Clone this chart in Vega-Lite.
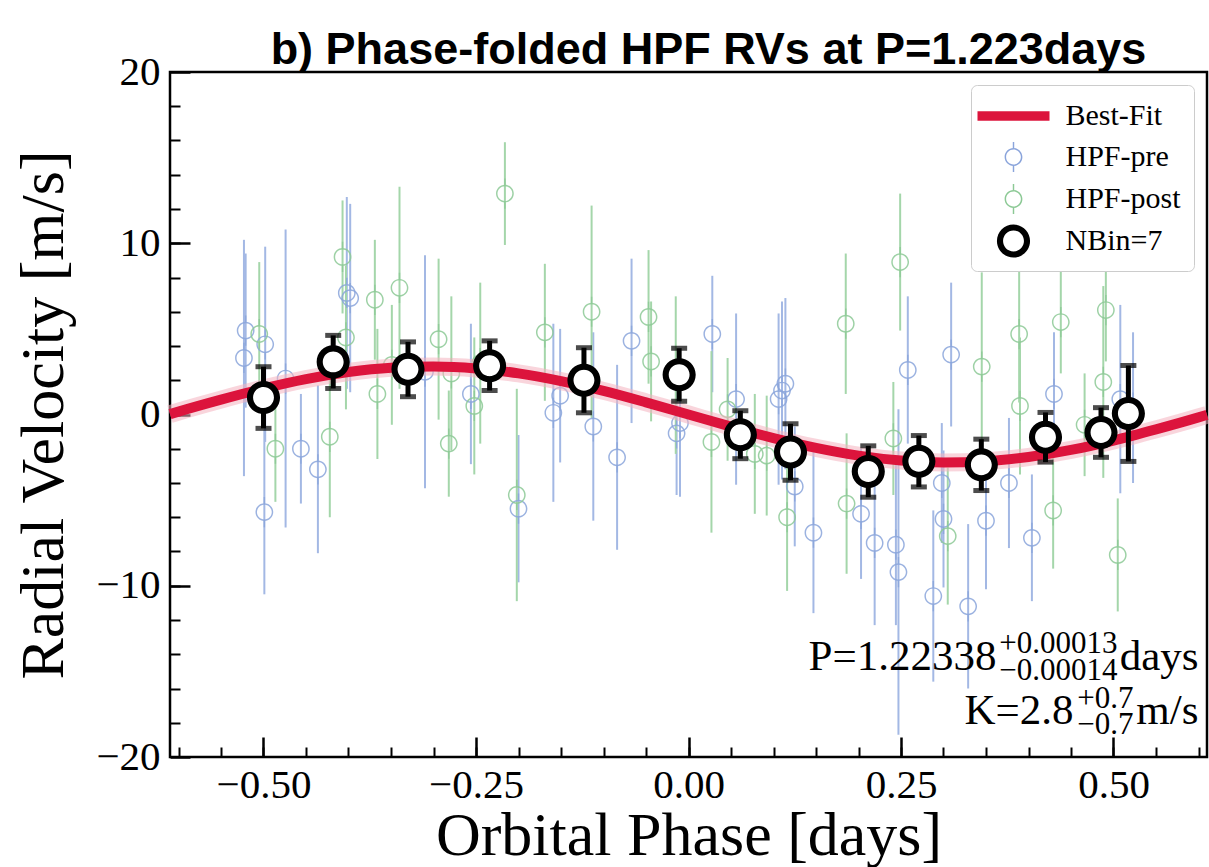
{
  "$schema": "https://vega.github.io/schema/vega-lite/v6.json",
  "width": 1037,
  "height": 685,
  "autosize": {"type": "none"},
  "padding": {"left": 170, "top": 72, "right": 2, "bottom": 110},
  "background": "white",
  "title": {
    "text": "b) Phase-folded HPF RVs at P=1.223days",
    "font": "Liberation Sans",
    "fontSize": 45,
    "fontWeight": "bold",
    "color": "black",
    "anchor": "middle",
    "dx": 20,
    "offset": -58,
    "baseline": "alphabetic"
  },
  "config": {
    "view": {"stroke": "black", "strokeWidth": 2.5},
    "axis": {"grid": false}
  },
  "resolve": {"axis": {"x": "independent", "y": "independent"}},
  "datasets": {
    "rv": [
      {"phase": -0.523, "rv": 3.3, "err": 6.9, "series": "HPF-pre"},
      {"phase": -0.521, "rv": 4.9, "err": 4.5, "series": "HPF-pre"},
      {"phase": -0.498, "rv": 4.1, "err": 5.7, "series": "HPF-pre"},
      {"phase": -0.499, "rv": -5.7, "err": 4.8, "series": "HPF-pre"},
      {"phase": -0.474, "rv": 2.1, "err": 8.7, "series": "HPF-pre"},
      {"phase": -0.456, "rv": -2.0, "err": 3.2, "series": "HPF-pre"},
      {"phase": -0.436, "rv": -3.2, "err": 4.9, "series": "HPF-pre"},
      {"phase": -0.402, "rv": 7.1, "err": 5.6, "series": "HPF-pre"},
      {"phase": -0.398, "rv": 6.8, "err": 5.5, "series": "HPF-pre"},
      {"phase": -0.310, "rv": 2.5, "err": 6.8, "series": "HPF-pre"},
      {"phase": -0.256, "rv": 1.2, "err": 4.1, "series": "HPF-pre"},
      {"phase": -0.200, "rv": -5.5, "err": 4.3, "series": "HPF-pre"},
      {"phase": -0.159, "rv": 0.1, "err": 5.2, "series": "HPF-pre"},
      {"phase": -0.151, "rv": 1.1, "err": 3.9, "series": "HPF-pre"},
      {"phase": -0.112, "rv": -0.7, "err": 5.5, "series": "HPF-pre"},
      {"phase": -0.084, "rv": -2.5, "err": 5.4, "series": "HPF-pre"},
      {"phase": -0.067, "rv": 4.3, "err": 4.8, "series": "HPF-pre"},
      {"phase": -0.010, "rv": -0.5, "err": 4.3, "series": "HPF-pre"},
      {"phase": -0.014, "rv": -1.1, "err": 3.6, "series": "HPF-pre"},
      {"phase": 0.028, "rv": 4.7, "err": 3.4, "series": "HPF-pre"},
      {"phase": 0.056, "rv": 0.9, "err": 5.0, "series": "HPF-pre"},
      {"phase": 0.106, "rv": 0.9, "err": 5.0, "series": "HPF-pre"},
      {"phase": 0.110, "rv": 1.4, "err": 5.2, "series": "HPF-pre"},
      {"phase": 0.114, "rv": 1.8, "err": 5.0, "series": "HPF-pre"},
      {"phase": 0.125, "rv": -4.2, "err": 3.5, "series": "HPF-pre"},
      {"phase": 0.147, "rv": -6.9, "err": 4.7, "series": "HPF-pre"},
      {"phase": 0.203, "rv": -5.8, "err": 3.8, "series": "HPF-pre"},
      {"phase": 0.219, "rv": -7.5, "err": 4.8, "series": "HPF-pre"},
      {"phase": 0.244, "rv": -7.6, "err": 4.7, "series": "HPF-pre"},
      {"phase": 0.247, "rv": -9.2, "err": 9.5, "series": "HPF-pre"},
      {"phase": 0.258, "rv": 2.6, "err": 4.3, "series": "HPF-pre"},
      {"phase": 0.288, "rv": -10.6, "err": 5.0, "series": "HPF-pre"},
      {"phase": 0.298, "rv": -4.0, "err": 3.5, "series": "HPF-pre"},
      {"phase": 0.300, "rv": -6.1, "err": 4.0, "series": "HPF-pre"},
      {"phase": 0.309, "rv": 3.5, "err": 4.2, "series": "HPF-pre"},
      {"phase": 0.329, "rv": -11.2, "err": 4.8, "series": "HPF-pre"},
      {"phase": 0.350, "rv": -6.2, "err": 4.0, "series": "HPF-pre"},
      {"phase": 0.377, "rv": -4.0, "err": 3.8, "series": "HPF-pre"},
      {"phase": 0.404, "rv": -7.2, "err": 3.7, "series": "HPF-pre"},
      {"phase": 0.430, "rv": 1.2, "err": 3.6, "series": "HPF-pre"},
      {"phase": 0.508, "rv": 0.9, "err": 5.5, "series": "HPF-pre"},
      {"phase": 0.523, "rv": 0.4, "err": 4.4, "series": "HPF-pre"},
      {"phase": -0.505, "rv": 4.7, "err": 4.2, "series": "HPF-post"},
      {"phase": -0.486, "rv": -2.0, "err": 3.1, "series": "HPF-post"},
      {"phase": -0.422, "rv": -1.3, "err": 4.7, "series": "HPF-post"},
      {"phase": -0.407, "rv": 9.2, "err": 3.3, "series": "HPF-post"},
      {"phase": -0.403, "rv": 4.5, "err": 4.2, "series": "HPF-post"},
      {"phase": -0.369, "rv": 6.7, "err": 3.5, "series": "HPF-post"},
      {"phase": -0.366, "rv": 1.2, "err": 3.8, "series": "HPF-post"},
      {"phase": -0.349, "rv": 2.9, "err": 3.5, "series": "HPF-post"},
      {"phase": -0.340, "rv": 7.4, "err": 5.9, "series": "HPF-post"},
      {"phase": -0.294, "rv": 4.4, "err": 4.7, "series": "HPF-post"},
      {"phase": -0.282, "rv": -1.7, "err": 3.1, "series": "HPF-post"},
      {"phase": -0.279, "rv": 2.4, "err": 4.5, "series": "HPF-post"},
      {"phase": -0.252, "rv": 0.5, "err": 4.0, "series": "HPF-post"},
      {"phase": -0.245, "rv": 3.0, "err": 4.7, "series": "HPF-post"},
      {"phase": -0.216, "rv": 12.9, "err": 3.0, "series": "HPF-post"},
      {"phase": -0.202, "rv": -4.7, "err": 6.2, "series": "HPF-post"},
      {"phase": -0.169, "rv": 4.8, "err": 4.0, "series": "HPF-post"},
      {"phase": -0.114, "rv": 6.0, "err": 6.2, "series": "HPF-post"},
      {"phase": -0.047, "rv": 5.7, "err": 3.9, "series": "HPF-post"},
      {"phase": -0.044, "rv": 3.1, "err": 3.5, "series": "HPF-post"},
      {"phase": -0.015, "rv": 2.3, "err": 4.6, "series": "HPF-post"},
      {"phase": 0.027, "rv": -1.6, "err": 5.3, "series": "HPF-post"},
      {"phase": 0.046, "rv": 0.3, "err": 3.0, "series": "HPF-post"},
      {"phase": 0.078, "rv": -2.3, "err": 3.5, "series": "HPF-post"},
      {"phase": 0.092, "rv": -2.4, "err": 3.5, "series": "HPF-post"},
      {"phase": 0.116, "rv": -6.0, "err": 4.3, "series": "HPF-post"},
      {"phase": 0.185, "rv": 5.3, "err": 4.1, "series": "HPF-post"},
      {"phase": 0.186, "rv": -5.2, "err": 4.1, "series": "HPF-post"},
      {"phase": 0.241, "rv": -1.4, "err": 3.3, "series": "HPF-post"},
      {"phase": 0.249, "rv": 8.9, "err": 4.0, "series": "HPF-post"},
      {"phase": 0.305, "rv": -7.1, "err": 4.0, "series": "HPF-post"},
      {"phase": 0.345, "rv": 2.8, "err": 5.5, "series": "HPF-post"},
      {"phase": 0.389, "rv": 4.7, "err": 4.0, "series": "HPF-post"},
      {"phase": 0.390, "rv": 0.5, "err": 4.0, "series": "HPF-post"},
      {"phase": 0.429, "rv": -5.6, "err": 3.4, "series": "HPF-post"},
      {"phase": 0.438, "rv": 5.4, "err": 3.0, "series": "HPF-post"},
      {"phase": 0.466, "rv": -0.6, "err": 3.0, "series": "HPF-post"},
      {"phase": 0.488, "rv": 1.9, "err": 5.6, "series": "HPF-post"},
      {"phase": 0.491, "rv": 6.1, "err": 3.0, "series": "HPF-post"},
      {"phase": 0.505, "rv": -8.2, "err": 3.3, "series": "HPF-post"}
    ],
    "bins": [
      {"phase": -0.500, "rv": 0.99, "err": 1.8},
      {"phase": -0.418, "rv": 3.07, "err": 1.55},
      {"phase": -0.330, "rv": 2.64, "err": 1.6},
      {"phase": -0.234, "rv": 2.85, "err": 1.45},
      {"phase": -0.123, "rv": 2.0, "err": 1.9},
      {"phase": -0.011, "rv": 2.32, "err": 1.55},
      {"phase": 0.061, "rv": -1.18, "err": 1.4},
      {"phase": 0.120, "rv": -2.19, "err": 1.65},
      {"phase": 0.2115, "rv": -3.33, "err": 1.5},
      {"phase": 0.271, "rv": -2.73, "err": 1.5},
      {"phase": 0.3445, "rv": -2.94, "err": 1.5},
      {"phase": 0.420, "rv": -1.33, "err": 1.45},
      {"phase": 0.4853, "rv": -1.05, "err": 1.45},
      {"phase": 0.5175, "rv": 0.06, "err": 2.8}
    ],
    "curve": [
      {"phase": -0.61, "rv": 0.02},
      {"phase": -0.60, "rv": 0.17},
      {"phase": -0.55, "rv": 0.87},
      {"phase": -0.50, "rv": 1.52},
      {"phase": -0.45, "rv": 2.07},
      {"phase": -0.40, "rv": 2.48},
      {"phase": -0.35, "rv": 2.73},
      {"phase": -0.30, "rv": 2.80},
      {"phase": -0.25, "rv": 2.69},
      {"phase": -0.20, "rv": 2.40},
      {"phase": -0.15, "rv": 1.95},
      {"phase": -0.10, "rv": 1.38},
      {"phase": -0.05, "rv": 0.71},
      {"phase": 0.00, "rv": 0.00},
      {"phase": 0.05, "rv": -0.71},
      {"phase": 0.10, "rv": -1.38},
      {"phase": 0.15, "rv": -1.95},
      {"phase": 0.20, "rv": -2.40},
      {"phase": 0.25, "rv": -2.69},
      {"phase": 0.30, "rv": -2.80},
      {"phase": 0.35, "rv": -2.73},
      {"phase": 0.40, "rv": -2.48},
      {"phase": 0.45, "rv": -2.07},
      {"phase": 0.50, "rv": -1.52},
      {"phase": 0.55, "rv": -0.87},
      {"phase": 0.60, "rv": -0.17},
      {"phase": 0.61, "rv": -0.02}
    ]
  },
  "layer": [
    {
      "mark": {"type": "rule", "color": "#444444", "strokeWidth": 1.5, "strokeDash": [6, 4]},
      "encoding": {
        "y": {"datum": 0, "type": "quantitative", "scale": {"domain": [-20, 20], "nice": false, "zero": false}, "axis": null}
      }
    },
    {
      "data": {"name": "rv"},
      "transform": [{"filter": "datum.series === 'HPF-pre'"}],
      "mark": {"type": "errorbar", "color": "#a3b8e4", "thickness": 2},
      "encoding": {
        "x": {"field": "phase", "type": "quantitative", "scale": {"domain": [-0.61, 0.61], "nice": false, "zero": false}, "axis": null},
        "y": {"field": "rv", "type": "quantitative", "scale": {"domain": [-20, 20], "nice": false, "zero": false}, "axis": null},
        "yError": {"field": "err"}
      }
    },
    {
      "data": {"name": "rv"},
      "transform": [{"filter": "datum.series === 'HPF-post'"}],
      "mark": {"type": "errorbar", "color": "#a4d6aa", "thickness": 2},
      "encoding": {
        "x": {"field": "phase", "type": "quantitative", "scale": {"domain": [-0.61, 0.61], "nice": false, "zero": false}, "axis": null},
        "y": {"field": "rv", "type": "quantitative", "scale": {"domain": [-20, 20], "nice": false, "zero": false}, "axis": null},
        "yError": {"field": "err"}
      }
    },
    {
      "data": {"name": "rv"},
      "mark": {"type": "point", "filled": true, "size": 1296, "strokeWidth": 0, "opacity": 0.85},
      "encoding": {
        "x": {
          "field": "phase", "type": "quantitative",
          "scale": {"domain": [-0.61, 0.61], "nice": false, "zero": false},
          "axis": {
            "orient": "bottom", "values": [-0.5, -0.25, 0, 0.25, 0.5], "format": ".2f",
            "title": "Orbital Phase [days]", "domain": false, "grid": false,
            "tickSize": -20, "tickWidth": 2.5, "tickColor": "black",
            "labelFont": "Liberation Serif", "labelFontSize": 41, "labelColor": "black", "labelPadding": 28,
            "labelFlush": false, "labelOverlap": false,
            "titleFont": "Liberation Serif", "titleFontSize": 62, "titleFontWeight": "normal", "titleColor": "black", "titlePadding": 0
          }
        },
        "y": {
          "field": "rv", "type": "quantitative",
          "scale": {"domain": [-20, 20], "nice": false, "zero": false},
          "axis": {
            "orient": "left", "values": [-20, -10, 0, 10, 20], "format": "d",
            "title": "Radial Velocity [m/s]", "domain": false, "grid": false,
            "tickSize": -20, "tickWidth": 2.5, "tickColor": "black",
            "labelFont": "Liberation Serif", "labelFontSize": 41, "labelColor": "black", "labelPadding": 30,
            "labelFlush": false, "labelOverlap": false,
            "titleFont": "Liberation Serif", "titleFontSize": 62, "titleFontWeight": "normal", "titleColor": "black", "titlePadding": 20
          }
        },
        "color": {
          "field": "series", "type": "nominal",
          "scale": {"domain": ["Best-Fit", "HPF-pre", "HPF-post", "NBin=7"], "range": ["#dc143c", "#8aa4db", "#8cc995", "black"]},
          "legend": {
            "title": null, "orient": "top-right", "offset": 13, "padding": 13,
            "fillColor": "white", "strokeColor": "#cccccc", "cornerRadius": 6,
            "labelFont": "Liberation Serif", "labelFontSize": 30, "labelColor": "black",
            "symbolSize": 1296, "symbolStrokeWidth": 0, "symbolOffset": 11.5, "labelOffset": 34, "rowPadding": 8,
            "symbolOpacity": 1
          }
        },
        "shape": {
          "field": "series", "type": "nominal",
          "scale": {
            "domain": ["Best-Fit", "HPF-pre", "HPF-post", "NBin=7"],
            "range": [
              "M-2,-0.26H2V0.26H-2Z",
              "M-0.494,0A0.494,0.494,0,1,1,0.494,0A0.494,0.494,0,1,1,-0.494,0ZM-0.412,0A0.412,0.412,0,1,0,0.412,0A0.412,0.412,0,1,0,-0.412,0ZM-0.04,-0.84H0.04V-0.494H-0.04ZM-0.04,0.494H0.04V0.84H-0.04Z",
              "M-0.494,0A0.494,0.494,0,1,1,0.494,0A0.494,0.494,0,1,1,-0.494,0ZM-0.412,0A0.412,0.412,0,1,0,0.412,0A0.412,0.412,0,1,0,-0.412,0ZM-0.04,-0.84H0.04V-0.494H-0.04ZM-0.04,0.494H0.04V0.84H-0.04Z",
              "M-0.92,0A0.92,0.92,0,1,1,0.92,0A0.92,0.92,0,1,1,-0.92,0ZM-0.58,0A0.58,0.58,0,1,0,0.58,0A0.58,0.58,0,1,0,-0.58,0Z"
            ]
          },
          "legend": {"title": null}
        }
      }
    },
    {
      "data": {"name": "curve"},
      "mark": {"type": "line", "color": "#f4b3c0", "strokeWidth": 18, "opacity": 0.55, "interpolate": "monotone"},
      "encoding": {
        "x": {
          "field": "phase", "type": "quantitative",
          "scale": {"domain": [-0.61, 0.61], "nice": false, "zero": false},
          "axis": {
            "orient": "bottom",
            "values": [-0.6, -0.55, -0.5, -0.45, -0.4, -0.35, -0.3, -0.25, -0.2, -0.15, -0.1, -0.05, 0, 0.05, 0.1, 0.15, 0.2, 0.25, 0.3, 0.35, 0.4, 0.45, 0.5, 0.55, 0.6],
            "labels": false, "title": null, "domain": false, "grid": false,
            "tickSize": -10, "tickWidth": 2, "tickColor": "black"
          }
        },
        "y": {
          "field": "rv", "type": "quantitative",
          "scale": {"domain": [-20, 20], "nice": false, "zero": false},
          "axis": {
            "orient": "left",
            "values": [-18, -16, -14, -12, -10, -8, -6, -4, -2, 0, 2, 4, 6, 8, 10, 12, 14, 16, 18],
            "labels": false, "title": null, "domain": false, "grid": false,
            "tickSize": -10, "tickWidth": 2, "tickColor": "black"
          }
        }
      }
    },
    {
      "data": {"name": "curve"},
      "mark": {"type": "line", "strokeWidth": 10, "interpolate": "monotone"},
      "encoding": {
        "x": {"field": "phase", "type": "quantitative", "scale": {"domain": [-0.61, 0.61], "nice": false, "zero": false}, "axis": null},
        "y": {"field": "rv", "type": "quantitative", "scale": {"domain": [-20, 20], "nice": false, "zero": false}, "axis": null},
        "color": {"datum": "Best-Fit", "type": "nominal", "scale": {"domain": ["Best-Fit", "HPF-pre", "HPF-post", "NBin=7"], "range": ["#dc143c", "#8aa4db", "#8cc995", "black"]}}
      }
    },
    {
      "data": {"name": "bins"},
      "mark": {"type": "errorbar", "ticks": true, "color": "black", "thickness": 5, "size": 16},
      "encoding": {
        "x": {"field": "phase", "type": "quantitative", "scale": {"domain": [-0.61, 0.61], "nice": false, "zero": false}, "axis": null},
        "y": {"field": "rv", "type": "quantitative", "scale": {"domain": [-20, 20], "nice": false, "zero": false}, "axis": null},
        "yError": {"field": "err"}
      }
    },
    {
      "data": {"name": "bins"},
      "mark": {"type": "point", "shape": "circle", "filled": true, "color": "white", "size": 484, "strokeWidth": 0, "opacity": 1},
      "encoding": {
        "x": {"field": "phase", "type": "quantitative", "scale": {"domain": [-0.61, 0.61], "nice": false, "zero": false}, "axis": null},
        "y": {"field": "rv", "type": "quantitative", "scale": {"domain": [-20, 20], "nice": false, "zero": false}, "axis": null}
      }
    },
    {
      "data": {"name": "bins"},
      "mark": {"type": "point", "filled": true, "size": 1296, "strokeWidth": 0, "opacity": 1},
      "encoding": {
        "x": {"field": "phase", "type": "quantitative", "scale": {"domain": [-0.61, 0.61], "nice": false, "zero": false}, "axis": null},
        "y": {"field": "rv", "type": "quantitative", "scale": {"domain": [-20, 20], "nice": false, "zero": false}, "axis": null},
        "color": {"datum": "NBin=7", "type": "nominal", "scale": {"domain": ["Best-Fit", "HPF-pre", "HPF-post", "NBin=7"], "range": ["#dc143c", "#8aa4db", "#8cc995", "black"]}},
        "shape": {"datum": "NBin=7", "type": "nominal"}
      }
    },
    {
      "data": {"values": [{"t": "P=1.22338"}]},
      "mark": {"type": "text", "align": "right", "baseline": "alphabetic", "font": "Liberation Serif", "fontSize": 43, "color": "black", "dx": -202},
      "encoding": {
        "x": {"datum": 0.6, "type": "quantitative", "scale": {"domain": [-0.61, 0.61], "nice": false, "zero": false}, "axis": null},
        "y": {"datum": -14.9, "type": "quantitative", "scale": {"domain": [-20, 20], "nice": false, "zero": false}, "axis": null},
        "text": {"field": "t"}
      }
    },
    {
      "data": {"values": [{"t": "+0.00013"}]},
      "mark": {"type": "text", "align": "right", "baseline": "alphabetic", "font": "Liberation Serif", "fontSize": 31, "color": "black", "dx": -81, "dy": -17},
      "encoding": {
        "x": {"datum": 0.6, "type": "quantitative", "scale": {"domain": [-0.61, 0.61], "nice": false, "zero": false}, "axis": null},
        "y": {"datum": -14.9, "type": "quantitative", "scale": {"domain": [-20, 20], "nice": false, "zero": false}, "axis": null},
        "text": {"field": "t"}
      }
    },
    {
      "data": {"values": [{"t": "−0.00014"}]},
      "mark": {"type": "text", "align": "right", "baseline": "alphabetic", "font": "Liberation Serif", "fontSize": 31, "color": "black", "dx": -81, "dy": 10},
      "encoding": {
        "x": {"datum": 0.6, "type": "quantitative", "scale": {"domain": [-0.61, 0.61], "nice": false, "zero": false}, "axis": null},
        "y": {"datum": -14.9, "type": "quantitative", "scale": {"domain": [-20, 20], "nice": false, "zero": false}, "axis": null},
        "text": {"field": "t"}
      }
    },
    {
      "data": {"values": [{"t": "days"}]},
      "mark": {"type": "text", "align": "right", "baseline": "alphabetic", "font": "Liberation Serif", "fontSize": 43, "color": "black"},
      "encoding": {
        "x": {"datum": 0.6, "type": "quantitative", "scale": {"domain": [-0.61, 0.61], "nice": false, "zero": false}, "axis": null},
        "y": {"datum": -14.9, "type": "quantitative", "scale": {"domain": [-20, 20], "nice": false, "zero": false}, "axis": null},
        "text": {"field": "t"}
      }
    },
    {
      "data": {"values": [{"t": "K=2.8"}]},
      "mark": {"type": "text", "align": "right", "baseline": "alphabetic", "font": "Liberation Serif", "fontSize": 43, "color": "black", "dx": -125},
      "encoding": {
        "x": {"datum": 0.6, "type": "quantitative", "scale": {"domain": [-0.61, 0.61], "nice": false, "zero": false}, "axis": null},
        "y": {"datum": -18.1, "type": "quantitative", "scale": {"domain": [-20, 20], "nice": false, "zero": false}, "axis": null},
        "text": {"field": "t"}
      }
    },
    {
      "data": {"values": [{"t": "+0.7"}]},
      "mark": {"type": "text", "align": "right", "baseline": "alphabetic", "font": "Liberation Serif", "fontSize": 31, "color": "black", "dx": -65, "dy": -16},
      "encoding": {
        "x": {"datum": 0.6, "type": "quantitative", "scale": {"domain": [-0.61, 0.61], "nice": false, "zero": false}, "axis": null},
        "y": {"datum": -18.1, "type": "quantitative", "scale": {"domain": [-20, 20], "nice": false, "zero": false}, "axis": null},
        "text": {"field": "t"}
      }
    },
    {
      "data": {"values": [{"t": "−0.7"}]},
      "mark": {"type": "text", "align": "right", "baseline": "alphabetic", "font": "Liberation Serif", "fontSize": 31, "color": "black", "dx": -65, "dy": 10},
      "encoding": {
        "x": {"datum": 0.6, "type": "quantitative", "scale": {"domain": [-0.61, 0.61], "nice": false, "zero": false}, "axis": null},
        "y": {"datum": -18.1, "type": "quantitative", "scale": {"domain": [-20, 20], "nice": false, "zero": false}, "axis": null},
        "text": {"field": "t"}
      }
    },
    {
      "data": {"values": [{"t": "m/s"}]},
      "mark": {"type": "text", "align": "right", "baseline": "alphabetic", "font": "Liberation Serif", "fontSize": 43, "color": "black"},
      "encoding": {
        "x": {"datum": 0.6, "type": "quantitative", "scale": {"domain": [-0.61, 0.61], "nice": false, "zero": false}, "axis": null},
        "y": {"datum": -18.1, "type": "quantitative", "scale": {"domain": [-20, 20], "nice": false, "zero": false}, "axis": null},
        "text": {"field": "t"}
      }
    }
  ]
}
